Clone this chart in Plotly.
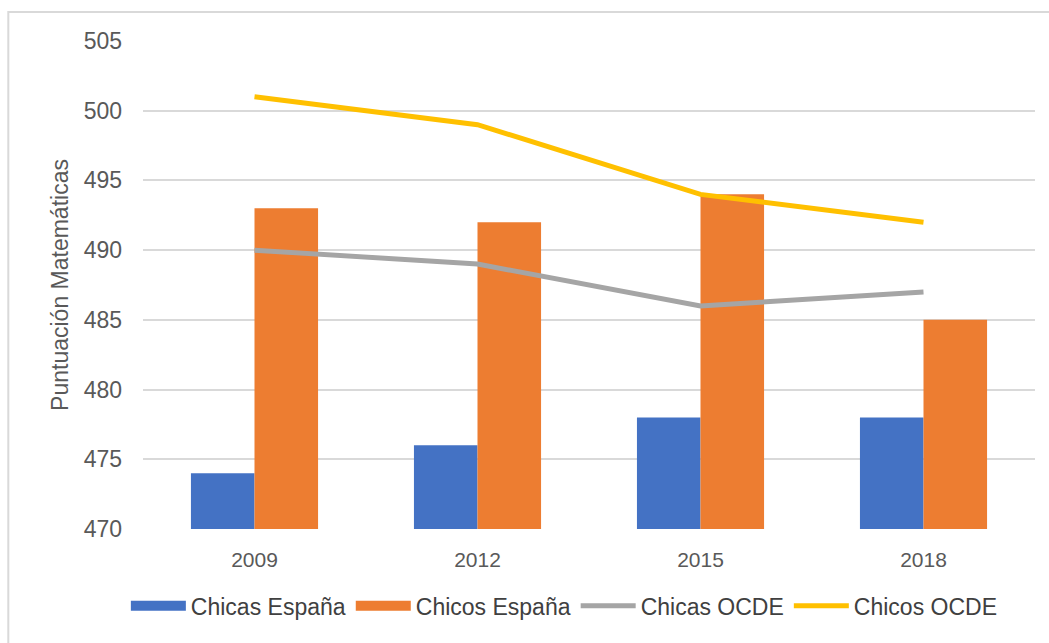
import plotly.graph_objects as go

years = ["2009", "2012", "2015", "2018"]
chicas_espana = [474, 476, 478, 478]
chicos_espana = [493, 492, 494, 485]
chicas_ocde = [490, 489, 486, 487]
chicos_ocde = [501, 499, 494, 492]

text_color = "#595959"
blue, orange, gray, yellow = "#4472C4", "#ED7D31", "#A5A5A5", "#FFC000"

fig = go.Figure()
fig.add_trace(go.Bar(x=years, y=[v - 470 for v in chicas_espana], base=470,
                     name="Chicas España", marker_color=blue,
                     marker_line_width=0, legendgroup="a", showlegend=False))
fig.add_trace(go.Bar(x=years, y=[v - 470 for v in chicos_espana], base=470,
                     name="Chicos España", marker_color=orange,
                     marker_line_width=0, legendgroup="b", showlegend=False))
fig.add_trace(go.Scatter(x=years, y=chicas_ocde, mode="lines",
                         name="Chicas OCDE", legendgroup="c", showlegend=False,
                         line=dict(color=gray, width=5)))
fig.add_trace(go.Scatter(x=years, y=chicos_ocde, mode="lines",
                         name="Chicos OCDE", legendgroup="d", showlegend=False,
                         line=dict(color=yellow, width=5)))

# legend keys: wide patches for the bar series, thin strokes for the lines
for name, color, w, grp in [("Chicas España", blue, 12, "a"),
                            ("Chicos España", orange, 12, "b"),
                            ("Chicas OCDE", gray, 5, "c"),
                            ("Chicos OCDE", yellow, 5, "d")]:
    fig.add_trace(go.Scatter(x=[None], y=[None], mode="lines", name=name,
                             legendgroup=grp, showlegend=True,
                             line=dict(color=color, width=w)))

fig.update_layout(
    width=1049, height=643,
    margin=dict(l=143, r=14, t=41, b=114),
    paper_bgcolor="white", plot_bgcolor="white",
    barmode="group", bargap=0.43, bargroupgap=0,
    font=dict(family="Liberation Sans, Arial, sans-serif", color=text_color),
    showlegend=True,
    legend=dict(orientation="h", xref="container", yref="container",
                x=0.538, xanchor="center", y=0.058, yanchor="middle",
                font=dict(size=23, color="#404040"),
                traceorder="normal", itemwidth=55),
    shapes=[dict(type="rect", xref="paper", yref="paper",
                 x0=-0.151, x1=1.03, y0=-0.3, y1=1.0594,
                 line=dict(color="#D9D9D9", width=2), layer="below")],
)
fig.update_xaxes(
    type="category", showgrid=False, showline=False, ticks="",
    automargin=False, ticklabelstandoff=16,
    tickfont=dict(size=21, color=text_color),
)
fig.update_yaxes(
    range=[470, 505], dtick=5, tick0=470,
    showgrid=True, gridcolor="#D9D9D9", gridwidth=1.5,
    zeroline=False, showline=False, ticks="", automargin=False,
    tickfont=dict(size=23, color=text_color), ticklabelstandoff=20,
    title=dict(text="Puntuación Matemáticas", standoff=8,
               font=dict(size=23, color=text_color)),
)

fig.write_html("out.html")
